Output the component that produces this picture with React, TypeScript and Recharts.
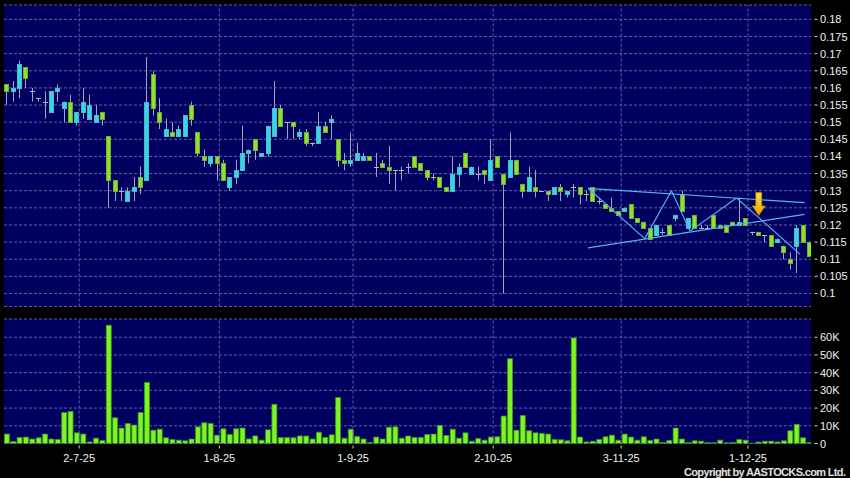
import React from "react";
import {
  ComposedChart,
  Bar,
  XAxis,
  YAxis,
  CartesianGrid,
  ReferenceLine,
  ReferenceDot,
} from "recharts";

// Daily candles, mid-Jun to mid-Dec 2025
const OPEN = [
  0.161, 0.159, 0.16, 0.166, 0.159, 0.157, 0.156, 0.153, 0.159, 0.154,
  0.156, 0.15, 0.153, 0.151, 0.15, 0.153, 0.146, 0.133, 0.13, 0.127,
  0.13, 0.134, 0.133, 0.164, 0.153, 0.146, 0.147, 0.146, 0.146, 0.155,
  0.147, 0.14, 0.138, 0.14, 0.138, 0.131, 0.134, 0.136, 0.141, 0.145,
  0.14, 0.141, 0.146, 0.154, 0.15, 0.15, 0.146, 0.147, 0.144, 0.144,
  0.149, 0.15, 0.145, 0.139, 0.138, 0.139, 0.139, 0.14, 0.137, 0.138,
  0.137, 0.136, 0.136, 0.137, 0.14, 0.138, 0.136, 0.134, 0.134, 0.131,
  0.13, 0.135, 0.141, 0.135, 0.135, 0.136, 0.133, 0.14, 0.135, 0.134,
  0.139, 0.132, 0.13, 0.131, 0.13, 0.13, 0.129, 0.131, 0.129, 0.131,
  0.131, 0.129, 0.131, 0.127, 0.126, 0.125, 0.124, 0.124, 0.126, 0.122,
  0.121, 0.119, 0.117, 0.118, 0.12, 0.122, 0.129, 0.119, 0.123, 0.119,
  0.119, 0.123, 0.12, 0.12, 0.121, 0.12, 0.122, 0.118, 0.118, 0.117,
  0.117, 0.115, 0.114, 0.11, 0.114, 0.12, 0.115,
];
const HIGH = [
  0.161, 0.162, 0.168, 0.166, 0.16, 0.157, 0.159, 0.159, 0.161, 0.156,
  0.158, 0.153, 0.16, 0.158, 0.155, 0.153, 0.146, 0.133, 0.131, 0.131,
  0.134, 0.137, 0.169, 0.165, 0.157, 0.151, 0.15, 0.149, 0.152, 0.156,
  0.147, 0.142, 0.14, 0.14, 0.139, 0.134, 0.139, 0.149, 0.142, 0.145,
  0.141, 0.149, 0.162, 0.155, 0.15, 0.15, 0.148, 0.148, 0.144, 0.153,
  0.15, 0.152, 0.145, 0.141, 0.147, 0.144, 0.141, 0.14, 0.141, 0.139,
  0.143, 0.136, 0.137, 0.138, 0.14, 0.138, 0.136, 0.135, 0.134, 0.131,
  0.14, 0.138, 0.141, 0.137, 0.137, 0.136, 0.145, 0.14, 0.135, 0.147,
  0.139, 0.132, 0.137, 0.136, 0.13, 0.13, 0.131, 0.132, 0.13, 0.132,
  0.131, 0.13, 0.131, 0.128, 0.126, 0.128, 0.124, 0.125, 0.126, 0.122,
  0.121, 0.119, 0.12, 0.119, 0.12, 0.123, 0.13, 0.122, 0.123, 0.12,
  0.12, 0.123, 0.12, 0.12, 0.121, 0.128, 0.122, 0.118, 0.118, 0.117,
  0.117, 0.116, 0.114, 0.112, 0.12, 0.12, 0.115,
];
const LOW = [
  0.155, 0.156, 0.157, 0.16, 0.156, 0.156, 0.151, 0.153, 0.156, 0.15,
  0.15, 0.149, 0.151, 0.151, 0.15, 0.149, 0.125, 0.127, 0.127, 0.127,
  0.127, 0.129, 0.133, 0.152, 0.148, 0.146, 0.146, 0.146, 0.146, 0.149,
  0.14, 0.137, 0.137, 0.133, 0.133, 0.13, 0.132, 0.136, 0.138, 0.139,
  0.14, 0.14, 0.146, 0.149, 0.145, 0.145, 0.145, 0.143, 0.143, 0.144,
  0.147, 0.145, 0.137, 0.136, 0.137, 0.139, 0.139, 0.139, 0.134, 0.137,
  0.132, 0.13, 0.133, 0.135, 0.137, 0.136, 0.133, 0.133, 0.131, 0.13,
  0.13, 0.131, 0.137, 0.135, 0.133, 0.132, 0.133, 0.137, 0.1, 0.134,
  0.135, 0.128, 0.13, 0.128, 0.13, 0.127, 0.129, 0.127, 0.128, 0.128,
  0.126, 0.127, 0.127, 0.126, 0.125, 0.124, 0.123, 0.124, 0.122, 0.121,
  0.119, 0.116, 0.117, 0.117, 0.117, 0.121, 0.124, 0.119, 0.119, 0.119,
  0.119, 0.119, 0.119, 0.118, 0.12, 0.12, 0.12, 0.117, 0.117, 0.115,
  0.114, 0.115, 0.11, 0.107, 0.106, 0.115, 0.111,
];
const CLOSE = [
  0.159, 0.16, 0.167, 0.163, 0.159, 0.157, 0.156, 0.159, 0.16, 0.156,
  0.15, 0.153, 0.156, 0.155, 0.152, 0.151, 0.133, 0.13, 0.13, 0.13,
  0.131, 0.131, 0.156, 0.154, 0.15, 0.148, 0.146, 0.148, 0.152, 0.151,
  0.141, 0.139, 0.14, 0.138, 0.133, 0.134, 0.136, 0.141, 0.142, 0.142,
  0.141, 0.149, 0.154, 0.149, 0.15, 0.149, 0.147, 0.144, 0.144, 0.149,
  0.147, 0.151, 0.139, 0.138, 0.139, 0.141, 0.14, 0.139, 0.137, 0.137,
  0.136, 0.136, 0.136, 0.137, 0.137, 0.136, 0.134, 0.134, 0.131, 0.13,
  0.135, 0.137, 0.137, 0.137, 0.135, 0.135, 0.139, 0.137, 0.132, 0.139,
  0.135, 0.13, 0.134, 0.13, 0.13, 0.129, 0.131, 0.13, 0.13, 0.131,
  0.129, 0.129, 0.127, 0.127, 0.125, 0.124, 0.123, 0.125, 0.122, 0.121,
  0.119, 0.116, 0.12, 0.118, 0.117, 0.123, 0.124, 0.122, 0.119, 0.119,
  0.119, 0.119, 0.119, 0.118, 0.12, 0.121, 0.12, 0.118, 0.117, 0.117,
  0.114, 0.116, 0.112, 0.109, 0.119, 0.115, 0.111,
];
const VOLUME = [
  5300, 1100, 3400, 3600, 2500, 3200, 5300, 2500, 2300, 17500,
  18100, 6000, 5300, 900, 3000, 1700, 66800, 14500, 8700, 11300,
  10400, 17500, 34500, 7500, 8100, 3200, 2300, 1900, 1500, 2500,
  9400, 11700, 11300, 4700, 8300, 5100, 8300, 8700, 2600, 4300,
  1900, 7700, 22100, 3400, 3400, 3200, 4300, 4200, 2500, 6400,
  3400, 4900, 26000, 3000, 8100, 4000, 2500, 600, 3600, 2500,
  9200, 9400, 3000, 4200, 3400, 3400, 5100, 5300, 10200, 4500,
  8100, 3000, 6000, 1300, 2800, 1900, 3600, 3800, 15500, 47900,
  7500, 15800, 7200, 6000, 5700, 5300, 2300, 2100, 1500, 59600,
  3600, 900, 1300, 2300, 3800, 4700, 1900, 5300, 3600, 1900,
  3800, 1700, 2500, 600, 1700, 8700, 2500, 600, 1500, 1300,
  600, 400, 1900, 400, 600, 2300, 1900, 100, 800, 1300,
  1300, 900, 1500, 7200, 10800, 3200, 600,
];

const TICK_POS = [11.4, 33.4, 54.4, 76.4, 96.5, 116.4];
const TICK_LABELS = ["2-7-25", "1-8-25", "1-9-25", "2-10-25", "3-11-25", "1-12-25"];
const PRICE_TICKS = [
  0.1, 0.105, 0.11, 0.115, 0.12, 0.125, 0.13, 0.135, 0.14, 0.145, 0.15,
  0.155, 0.16, 0.165, 0.17, 0.175, 0.18,
];
const VOLUME_TICKS = [0, 10000, 20000, 30000, 40000, 50000, 60000];

// hand drawn triangle annotation: [candle index, price]
const UPPER_LINE = [[91.3, 0.1307], [125.3, 0.1265]];
const LOWER_LINE = [[91.3, 0.1133], [125.3, 0.1231]];
const ZIGZAG = [
  [91.3, 0.1307], [100.2, 0.116], [104.4, 0.13], [107.3, 0.1182],
  [114.6, 0.1279], [124.6, 0.1114],
];
const ARROW_AT = [118.1, 0.126];

const data = OPEN.map((open, i) => ({
  i,
  open,
  high: HIGH[i],
  low: LOW[i],
  close: CLOSE[i],
  volume: VOLUME[i],
}));

const X_DOMAIN = [-0.4, 126.3];
const FONT = "'Liberation Sans', Arial, sans-serif";
const NAVY = "#000060";
const GRID = "#5f5fa6";
const TREND = "#56b2ee";

const Candle = (props: any) => {
  const { x, y, width, height, payload } = props;
  const { open, close, high, low } = payload;
  const ratio = high === low ? 0 : height / (high - low);
  const yOf = (v: number) => y + (high - v) * ratio;
  const left = Math.round(x);
  const cx = left + Math.floor(width / 2) + 0.5;
  const top = Math.round(yOf(Math.max(open, close)));
  const bottom = Math.round(yOf(Math.min(open, close)));
  let body;
  if (close === open) {
    body = (
      <line x1={left} x2={left + width} y1={top + 0.5} y2={top + 0.5} stroke="#b4b4c4" />
    );
  } else {
    const up = close > open;
    body = (
      <rect
        x={left + 0.5}
        y={top + 0.5}
        width={width - 1}
        height={Math.max(bottom - top, 1)}
        fill={up ? "#31d9e8" : "#8ee22c"}
        stroke={up ? "#58b4c0" : "#6eae34"}
      />
    );
  }
  return (
    <g>
      <line x1={cx} x2={cx} y1={y} y2={y + height} stroke="#a4a4b8" />
      {body}
    </g>
  );
};

const RightTick = (props: any) => {
  const { x, y, payload, fmt } = props;
  return (
    <g>
      <line x1={x - 5.5} x2={x - 2.5} y1={y} y2={y} stroke="#d0d0d0" />
      <text x={x} y={y} dy={4} fill="#f0f0f0" fontSize={11} fontFamily={FONT} textAnchor="start">
        {fmt(payload.value)}
      </text>
    </g>
  );
};

const DateTick = (props: any) => {
  const { x, y, payload } = props;
  const label = TICK_LABELS[TICK_POS.indexOf(payload.value)];
  return (
    <g>
      <line x1={x} x2={x} y1={y - 4} y2={y - 1} stroke="#d0d0d0" />
      <text x={x} y={y + 12} fill="#f0f0f0" fontSize={11} fontFamily={FONT} textAnchor="middle">
        {label}
      </text>
    </g>
  );
};

const Arrow = ({ cx, cy }: any) => (
  <g>
    <defs>
      <linearGradient id="arrowFill" x1="0" y1="0" x2="0" y2="1">
        <stop offset="0%" stopColor="#ffe040" />
        <stop offset="100%" stopColor="#f0a000" />
      </linearGradient>
    </defs>
    <polygon
      points={`${cx - 3},${cy - 12} ${cx + 3},${cy - 12} ${cx + 3},${cy + 1.5} ${cx + 6.5},${cy + 1.5} ${cx},${cy + 11} ${cx - 6.5},${cy + 1.5} ${cx - 3},${cy + 1.5}`}
      fill="url(#arrowFill)"
      stroke="#b07a00"
      strokeWidth={0.8}
    />
  </g>
);

const priceFmt = (v: number) => String(v);
const volFmt = (v: number) => (v === 0 ? "0" : `${v / 1000}K`);

export default function App() {
  return (
    <div
      style={{
        position: "absolute",
        left: 0,
        top: 0,
        width: 850,
        height: 478,
        background: "#000",
        overflow: "hidden",
      }}
    >
      <div style={{ position: "absolute", left: 0, top: 0 }}>
        <ComposedChart
          width={850}
          height={312}
          data={data}
          margin={{ top: 5, right: 0, bottom: 5.5, left: 4 }}
        >
          <CartesianGrid vertical={false} stroke={GRID} strokeDasharray="3 2" fill={NAVY} fillOpacity={1} />
          <XAxis dataKey="i" type="number" domain={X_DOMAIN} allowDataOverflow hide />
          <YAxis
            orientation="right"
            type="number"
            domain={[0.0962, 0.1842]}
            allowDataOverflow
            ticks={PRICE_TICKS}
            interval={0}
            width={39}
            axisLine={false}
            tickLine={false}
            tickSize={4}
            tickMargin={5}
            tick={(p: any) => <RightTick {...p} fmt={priceFmt} />}
          />
          {TICK_POS.map((p) => (
            <ReferenceLine key={p} x={p} stroke={GRID} strokeDasharray="3 2" />
          ))}
          <Bar
            dataKey={(d: any) => [d.low, d.high]}
            barSize={5}
            shape={Candle}
            isAnimationActive={false}
          />
          <ReferenceLine
            segment={[{ x: UPPER_LINE[0][0], y: UPPER_LINE[0][1] }, { x: UPPER_LINE[1][0], y: UPPER_LINE[1][1] }]}
            stroke={TREND}
            strokeWidth={1.2}
          />
          <ReferenceLine
            segment={[{ x: LOWER_LINE[0][0], y: LOWER_LINE[0][1] }, { x: LOWER_LINE[1][0], y: LOWER_LINE[1][1] }]}
            stroke={TREND}
            strokeWidth={1.2}
          />
          {ZIGZAG.slice(1).map((pt, k) => (
            <ReferenceLine
              key={k}
              segment={[{ x: ZIGZAG[k][0], y: ZIGZAG[k][1] }, { x: pt[0], y: pt[1] }]}
              stroke={TREND}
              strokeWidth={1.2}
            />
          ))}
          <ReferenceDot
            x={ARROW_AT[0]}
            y={ARROW_AT[1]}
            r={8}
            shape={(p: any) => <Arrow cx={p.cx} cy={p.cy} />}
          />
        </ComposedChart>
      </div>
      <div style={{ position: "absolute", left: 0, top: 312 }}>
        <ComposedChart
          width={850}
          height={166}
          data={data}
          margin={{ top: 7, right: 0, bottom: 0, left: 4 }}
        >
          <CartesianGrid vertical={false} stroke={GRID} strokeDasharray="3 2" fill={NAVY} fillOpacity={1} />
          <XAxis
            dataKey="i"
            type="number"
            domain={X_DOMAIN}
            allowDataOverflow
            ticks={TICK_POS}
            interval={0}
            height={34.5}
            axisLine={false}
            tickLine={false}
            tickSize={4}
            tickMargin={2}
            tick={(p: any) => <DateTick {...p} />}
          />
          <YAxis
            orientation="right"
            type="number"
            domain={[0, 70300]}
            allowDataOverflow
            ticks={VOLUME_TICKS}
            interval={0}
            width={39}
            axisLine={false}
            tickLine={false}
            tickSize={4}
            tickMargin={5}
            tick={(p: any) => <RightTick {...p} fmt={volFmt} />}
          />
          {TICK_POS.map((p) => (
            <ReferenceLine key={p} x={p} stroke={GRID} strokeDasharray="3 2" />
          ))}
          <Bar
            dataKey="volume"
            barSize={5}
            fill="#7cf524"
            stroke="#3f9414"
            strokeWidth={0.8}
            isAnimationActive={false}
          />
        </ComposedChart>
      </div>
      <svg
        width={850}
        height={478}
        style={{ position: "absolute", left: 0, top: 0, pointerEvents: "none" }}
      >
        <text
          x={846}
          y={476}
          textAnchor="end"
          fill="#e0e0e0"
          fontSize={11}
          fontWeight="bold"
          fontFamily={FONT}
          textLength={162}
          lengthAdjust="spacing"
        >
          Copyright by AASTOCKS.com Ltd.
        </text>
      </svg>
    </div>
  );
}
